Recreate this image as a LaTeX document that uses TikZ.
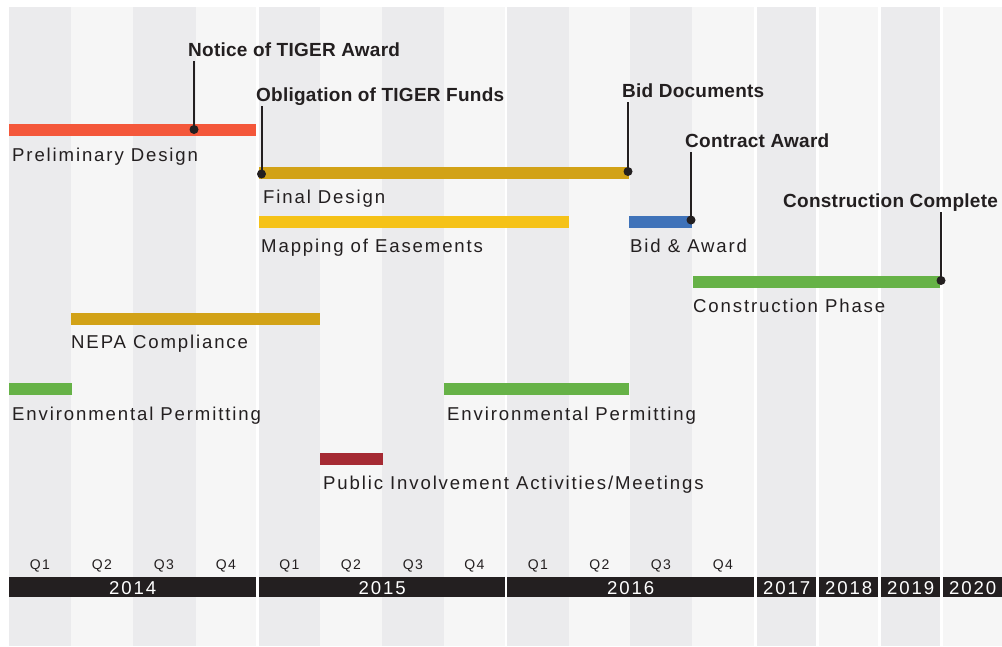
\documentclass[tikz,border=0pt]{standalone}
\usepackage{fontspec}
\setmainfont{Liberation Sans}
\newfontfamily\trk{Liberation Sans}[LetterSpace=10]
\newfontfamily\btrk{Liberation Sans Bold}[LetterSpace=1.3]
\definecolor{ink}{HTML}{231F20}
\definecolor{colD}{HTML}{EBEBED}
\definecolor{colL}{HTML}{F6F6F6}
\definecolor{cRed}{HTML}{F4573A}
\definecolor{cGold}{HTML}{D2A217}
\definecolor{cYel}{HTML}{F5C218}
\definecolor{cBlue}{HTML}{3F72B9}
\definecolor{cGreen}{HTML}{66B247}
\definecolor{cMaroon}{HTML}{A52A33}
\tikzset{
  bar/.style={rectangle, inner sep=0pt, anchor=north west, minimum height=12pt, draw=none},
  lab/.style={inner sep=0pt, anchor=base west, text=ink, font=\trk\fontsize{18.6pt}{20pt}\selectfont},
  mlab/.style={inner sep=0pt, anchor=base west, text=ink, text depth=4.5pt, font=\btrk\fontsize{19pt}{21pt}\selectfont},
  qlab/.style={inner sep=0pt, anchor=base, text=ink, font=\trk\fontsize{14pt}{16pt}\selectfont},
  yearbar/.style={rectangle, fill=ink, inner sep=0pt, anchor=north west, minimum height=20pt, text=white, text height=15pt, text depth=0pt, font=\trk\fontsize{18.6pt}{20pt}\selectfont},
  dot/.style={circle, fill=ink, inner sep=0pt, minimum size=9pt},
  leader/.style={draw=ink, line width=2pt},
}
\begin{document}
\begin{tikzpicture}[x=1pt,y=-1pt]
\useasboundingbox (0,0) rectangle (1002,646);
\fill[white] (0,0) rectangle (1002,646);
% columns
\foreach \a/\b/\c in {9/71/colD,71/133/colL,133/195.5/colD,195.5/256/colL,
  259/320/colD,320/382/colL,382/444/colD,444/505/colL,
  507/569/colD,569/630/colL,630/692/colD,692/754/colL,
  757/816/colD,819/878/colL,881/940/colD,943/1002/colL}
  {\fill[\c] (\a,7) rectangle (\b,646);}
% quarter labels
\foreach \x/\q in {40/Q1,102/Q2,164/Q3,226/Q4,289.5/Q1,351/Q2,413/Q3,474.5/Q4,538/Q1,599.5/Q2,661/Q3,723/Q4}
  {\node[qlab] (q\x) at (\x,569) {\q};}
% year bars
\node[yearbar, minimum width=247pt] (y2014) at (9,577) {2014};
\node[yearbar, minimum width=246pt] (y2015) at (259,577) {2015};
\node[yearbar, minimum width=247pt] (y2016) at (507,577) {2016};
\node[yearbar, minimum width=59pt] (y2017) at (757,577) {2017};
\node[yearbar, minimum width=59pt] (y2018) at (819,577) {2018};
\node[yearbar, minimum width=59pt] (y2019) at (881,577) {2019};
\node[yearbar, minimum width=59pt] (y2020) at (943,577) {2020};
% bars
\node[bar, fill=cRed, minimum width=247pt] (prelim) at (9,124) {};
\node[bar, fill=cGold, minimum width=370pt] (final) at (259,167) {};
\node[bar, fill=cYel, minimum width=310pt] (mapping) at (259,216) {};
\node[bar, fill=cBlue, minimum width=63pt] (bidaward) at (629,216) {};
\node[bar, fill=cGreen, minimum width=247pt] (constr) at (693,276) {};
\node[bar, fill=cGold, minimum width=249pt] (nepa) at (71,313) {};
\node[bar, fill=cGreen, minimum width=63pt] (env1) at (9,383) {};
\node[bar, fill=cGreen, minimum width=185pt] (env2) at (444,383) {};
\node[bar, fill=cMaroon, minimum width=63pt] (public) at (320,453) {};
% bar labels
\node[lab] (prelimL) at (12,161) {Preliminary Design};
\node[lab] (finalL) at (263,203) {Final Design};
\node[lab] (mappingL) at (261,252) {Mapping of Easements};
\node[lab] (bidawardL) at (630,252) {Bid \& Award};
\node[lab] (constrL) at (693,312) {Construction Phase};
\node[lab] (nepaL) at (71,348) {NEPA Compliance};
\node[lab] (env1L) at (12,420) {Environmental Permitting};
\node[lab] (env2L) at (447,420) {Environmental Permitting};
\node[lab] (publicL) at (323,489) {Public Involvement Activities/Meetings};
% milestones
\node[mlab] (m1) at (188,56) {Notice of TIGER Award};
\node[mlab] (m2) at (256,101) {Obligation of TIGER Funds};
\node[mlab] (m3) at (622,97) {Bid Documents};
\node[mlab] (m4) at (685,147) {Contract Award};
\node[mlab] (m5) at (783,207) {Construction Complete};
\node[dot] (d1) at (194,129.5) {};
\node[dot] (d2) at (261.5,174) {};
\node[dot] (d3) at (628,171.5) {};
\node[dot] (d4) at (691,220) {};
\node[dot] (d5) at (941,280.5) {};
\draw[leader] (d1.center) -- (d1 |- m1.south);
\draw[leader] (d2.center) -- (d2 |- m2.south);
\draw[leader] (d3.center) -- (d3 |- m3.south);
\draw[leader] (d4.center) -- (d4 |- m4.south);
\draw[leader] (d5.center) -- (d5 |- m5.south);
\end{tikzpicture}
\end{document}
